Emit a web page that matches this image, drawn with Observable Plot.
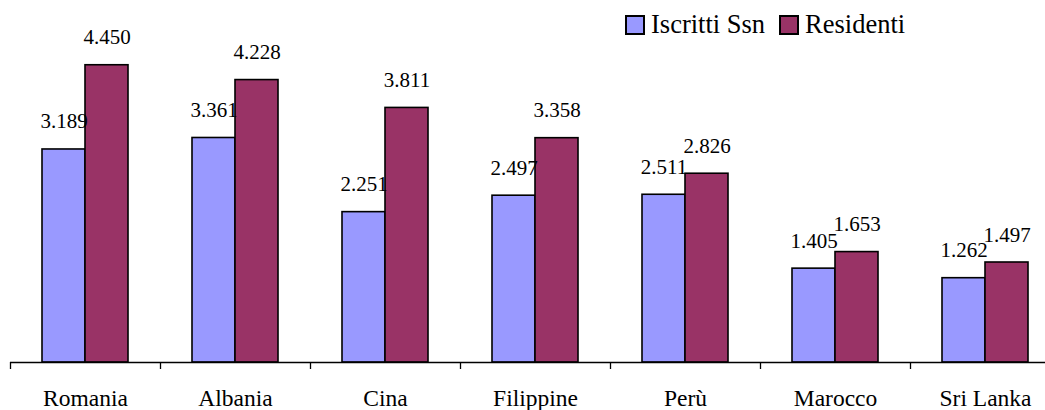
<!DOCTYPE html>
<html>
<head>
<meta charset="utf-8">
<script src="https://cdn.jsdelivr.net/npm/d3@7"></script>
<script src="https://cdn.jsdelivr.net/npm/@observablehq/plot@0.6"></script>
<style>
  html, body { margin: 0; padding: 0; background: #fff; }
  #wrap { position: relative; width: 1045px; height: 410px; overflow: hidden; background: #fff;
          font-family: "Liberation Serif", serif; }
  #wrap svg { max-width: none !important; display: block; }
  #legend { position: absolute; left: 625px; top: 9px; display: flex; align-items: center; font-size: 26.5px; color: #000; }
  #legend .sw { width: 20px; height: 20px; box-sizing: border-box; border: 2px solid #000; margin-right: 6px; }
  #legend .item { display: flex; align-items: center; margin-right: 14px; }
</style>
</head>
<body>
<div id="wrap"><div id="legend"></div></div>
<script>
const countries = ["Romania", "Albania", "Cina", "Filippine", "Perù", "Marocco", "Sri Lanka"];
const seriesNames = ["Iscritti Ssn", "Residenti"];
const iscritti = [3189, 3361, 2251, 2497, 2511, 1405, 1262];
const residenti = [4450, 4228, 3811, 3358, 2826, 1653, 1497];
const seriesColors = ["#9999FF", "#993366"];

const fmt = d3.formatLocale({decimal: ",", thousands: ".", grouping: [3], currency: ["", " €"]}).format(",d");

const dataA = countries.map((c, i) => ({country: c, series: seriesNames[0], value: iscritti[i]}));
const dataB = countries.map((c, i) => ({country: c, series: seriesNames[1], value: residenti[i]}));

const fontFamily = '"Liberation Serif", serif';

const chart = Plot.plot({
  width: 1060,
  height: 410,
  marginLeft: 10,
  marginRight: 0,
  marginTop: 28,
  marginBottom: 48,
  style: {fontFamily, background: "transparent", color: "#000", maxWidth: "none"},
  x: {domain: countries, paddingInner: 0, paddingOuter: 0, axis: null},
  y: {domain: [0, 5000], axis: null},
  color: {domain: seriesNames, range: seriesColors},
  marks: [
    Plot.barY(dataA, {x: "country", y: "value", fill: "series", stroke: "#000", strokeWidth: 1.6, insetLeft: 32, insetRight: 75}),
    Plot.barY(dataB, {x: "country", y: "value", fill: "series", stroke: "#000", strokeWidth: 1.6, insetLeft: 75, insetRight: 32}),
    Plot.text(dataA, {x: "country", y: "value", text: d => fmt(d.value), dx: -21.5, dy: -21, lineAnchor: "bottom", fontSize: 21, fill: "#000"}),
    Plot.text(dataB, {x: "country", y: "value", text: d => fmt(d.value), dx: 21.5, dy: -21, lineAnchor: "bottom", fontSize: 21, fill: "#000"}),
    Plot.ruleY([0], {stroke: "#000", strokeWidth: 1.3}),
    Plot.axisX({tickSize: 7, dx: -75, tickFormat: () => "", label: null, stroke: "#000", strokeWidth: 1.3}),
    Plot.axisX({tickSize: 0, tickPadding: 27, fontSize: 23.5, label: null, fill: "#000"})
  ]
});
document.getElementById("wrap").prepend(chart);

const legend = document.getElementById("legend");
seriesNames.forEach((name, i) => {
  const item = document.createElement("div");
  item.className = "item";
  const sw = document.createElement("div");
  sw.className = "sw";
  sw.style.background = seriesColors[i];
  const t = document.createElement("span");
  t.textContent = name;
  item.appendChild(sw);
  item.appendChild(t);
  legend.appendChild(item);
});
</script>
</body>
</html>
